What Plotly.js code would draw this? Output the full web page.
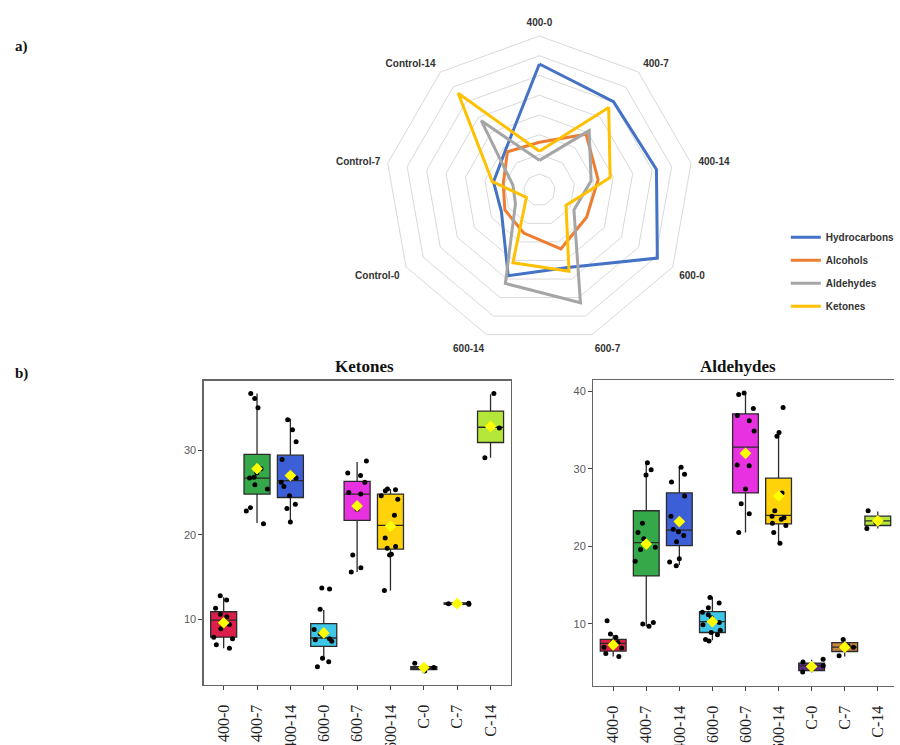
<!DOCTYPE html>
<html>
<head>
<meta charset="utf-8">
<script src="https://cdn.plot.ly/plotly-3.0.1.min.js"></script>
<style>
  html, body { margin: 0; padding: 0; background: #ffffff; }
  #chart { width: 900px; height: 745px; }
</style>
</head>
<body>
<div id="chart"></div>
<script>
// ---- a) radar: relative abundance of compound classes per treatment ----
const radarAxes = ['400-0', '400-7', '400-14', '600-0', '600-7', '600-14', 'Control-0', 'Control-7', 'Control-14'];
const hydrocarbons = [27.9, 25.2, 26.1, 30.5, 16.9, 19.1, 7.1, 7.8, 9.3];
const alcohols     = [8.1, 14.4, 11.1, 9.8, 11.9, 7.6, 6.1, 5.3, 8.6];
const aldehydesRad = [3.5, 15.6, 9.3, 6.1, 26.4, 21.2, 3.0, 2.8, 18.9];
const ketonesRad   = [5.8, 23.3, 14.2, 3.8, 17.9, 15.6, -0.2, 8.1, 28.0];
const radarRings   = [0, 5, 10, 15, 20, 25, 30, 35];

// ---- b) box plots ----
const groups = ['400-0', '400-7', '400-14', '600-0', '600-7', '600-14', 'C-0', 'C-7', 'C-14'];

// Ketones: box statistics
const ketQ1   = [7.9, 24.8, 24.4, 6.8, 21.7, 18.3, 4.05, 11.78, 30.9];
const ketMed  = [9.9, 26.7, 26.4, 7.8, 24.8, 21.1, 4.25, 11.85, 32.7];
const ketQ3   = [10.9, 29.5, 29.4, 9.5, 26.3, 24.8, 4.4, 11.95, 34.6];
const ketLo   = [6.6, 21.4, 21.5, 5.2, 15.6, 13.4, 4.05, 11.78, 29.1];
const ketHi   = [12.6, 36.7, 33.7, 11.1, 28.6, 25.4, 4.4, 11.95, 36.6];
const ketMean = [9.6, 27.8, 27.0, 8.4, 23.4, 21.0, 4.3, 11.85, 32.8];
// Ketones: individual samples per group
const ketPts = [
  [12.8, 12.3, 11.3, 10.6, 10.3, 9.7, 9.4, 8.9, 7.9, 7.7, 7.0, 6.6],
  [36.7, 36.1, 35.0, 27.8, 27.3, 26.8, 26.7, 25.9, 25.4, 23.2, 22.8, 21.3],
  [33.6, 32.4, 31.0, 28.9, 26.7, 26.2, 25.7, 24.6, 23.6, 23.1, 21.5],
  [13.7, 13.6, 11.2, 8.8, 8.3, 8.1, 7.7, 7.6, 7.4, 5.4, 5.0, 4.4],
  [28.7, 27.3, 27.0, 26.2, 25.0, 24.8, 23.0, 17.6, 16.1, 15.6],
  [25.4, 25.3, 25.2, 24.6, 24.2, 22.3, 19.6, 18.6, 18.4, 17.7, 17.6, 13.4],
  [4.8, 4.3, 3.9],
  [11.8, 11.9, 11.85],
  [36.7, 32.6, 29.1]
];

// Aldehydes: box statistics
const aldQ1   = [6.5, 16.2, 20.1, 8.9, 26.9, 22.9, 4.0, 6.45, 22.7];
const aldMed  = [7.5, 20.5, 22.1, 10.3, 32.8, 24.0, 4.6, 7.0, 23.3];
const aldQ3   = [8.0, 24.6, 26.9, 11.6, 37.1, 28.8, 4.95, 7.6, 23.9];
const aldLo   = [5.8, 9.7, 17.6, 7.9, 21.8, 20.5, 3.75, 5.8, 22.3];
const aldHi   = [8.6, 30.7, 30.3, 13.5, 39.8, 34.6, 5.4, 8.0, 24.5];
const aldMean = [7.3, 20.3, 23.2, 10.3, 32.0, 26.5, 4.5, 7.0, 23.3];
// Aldehydes: individual samples per group
const aldPts = [
  [10.4, 8.7, 8.3, 7.7, 7.6, 7.3, 7.0, 6.9, 6.2, 5.8],
  [30.8, 29.9, 29.2, 23.0, 21.8, 21.0, 19.9, 19.6, 18.1, 10.2, 10.0, 9.7],
  [30.2, 29.3, 28.3, 26.5, 23.9, 22.2, 21.9, 21.4, 20.6, 18.4, 18.0, 17.5],
  [13.4, 12.7, 12.1, 11.5, 11.2, 10.8, 10.2, 9.9, 9.2, 8.9, 8.6, 8.0, 7.8],
  [39.8, 39.6, 37.8, 36.9, 36.2, 34.9, 30.5, 30.4, 27.4, 25.5, 24.2, 21.8],
  [37.9, 34.7, 34.2, 26.9, 24.6, 23.9, 23.7, 23.5, 23.0, 22.7, 21.8, 20.4],
  [5.45, 5.1, 4.6, 3.8],
  [8.0, 7.2, 7.0, 5.9],
  [24.6, 23.1, 22.3]
];

// fill colour of each treatment group
const groupColors = ['#DC1E4A', '#35A94A', '#3C5FD8', '#3EC6E8', '#E832E2', '#FFD20A', '#5E2A82', '#C9843E', '#B5E63A'];
const seriesColors = ['#4472C4', '#ED7D31', '#A5A5A5', '#FFC000'];

const traces = [];

// radar series (closed polygons)
const radarSeries = [
  ['Hydrocarbons', hydrocarbons],
  ['Alcohols', alcohols],
  ['Aldehydes', aldehydesRad],
  ['Ketones', ketonesRad]
];
radarSeries.forEach(function (s, i) {
  traces.push({
    type: 'scatterpolar',
    subplot: 'polar',
    name: s[0],
    legendgroup: s[0],
    theta: radarAxes.concat([radarAxes[0]]),
    r: s[1].concat([s[1][0]]),
    mode: 'lines',
    line: { color: seriesColors[i], width: 3 },
    hoverinfo: 'skip'
  });
});

function addBoxPanel(xa, ya, q1, med, q3, lo, hi, mean, pts) {
  groups.forEach(function (g, i) {
    traces.push({
      type: 'box',
      xaxis: xa, yaxis: ya,
      x: [g],
      q1: [q1[i]], median: [med[i]], q3: [q3[i]],
      lowerfence: [lo[i]], upperfence: [hi[i]],
      fillcolor: groupColors[i],
      line: { color: '#2b2b2b', width: 1.3 },
      whiskerwidth: 0,
      boxpoints: false,
      showlegend: false,
      hoverinfo: 'skip'
    });
  });
  // jittered samples (box outline itself hidden)
  const px = [], py = [];
  pts.forEach(function (arr, i) {
    arr.forEach(function (v) { px.push(groups[i]); py.push(v); });
  });
  traces.push({
    type: 'box',
    xaxis: xa, yaxis: ya,
    x: px, y: py,
    boxpoints: 'all',
    jitter: 0.9,
    pointpos: 0,
    fillcolor: 'rgba(0,0,0,0)',
    line: { color: 'rgba(0,0,0,0)', width: 0 },
    marker: { color: '#000000', size: 5 },
    whiskerwidth: 0,
    showlegend: false,
    hoverinfo: 'skip'
  });
  // group means
  traces.push({
    type: 'scatter',
    xaxis: xa, yaxis: ya,
    x: groups, y: mean,
    mode: 'markers',
    marker: { symbol: 'diamond', color: '#FFFF00', size: 9 },
    showlegend: false,
    hoverinfo: 'skip'
  });
}

addBoxPanel('x', 'y', ketQ1, ketMed, ketQ3, ketLo, ketHi, ketMean, ketPts);
addBoxPanel('x2', 'y2', aldQ1, aldMed, aldQ3, aldLo, aldHi, aldMean, aldPts);

const xTickFont = { family: 'Liberation Serif, Times New Roman, serif', size: 16, color: '#222222' };
const yTickFont = { family: 'Liberation Sans, Arial, sans-serif', size: 11, color: '#5a5a5a' };

const layout = {
  width: 900,
  height: 745,
  margin: { l: 0, r: 0, t: 0, b: 0 },
  paper_bgcolor: '#ffffff',
  plot_bgcolor: '#ffffff',
  font: { family: 'Liberation Sans, Arial, sans-serif', color: '#333333' },
  showlegend: true,
  boxmode: 'overlay',
  boxgap: 0.22,
  boxgroupgap: 0,
  hovermode: false,
  legend: {
    x: 0.879, y: 0.701, xanchor: 'left', yanchor: 'top',
    font: { family: 'Liberation Sans, Arial, sans-serif', size: 10, color: '#333333', weight: 'bold' },
    bgcolor: 'rgba(0,0,0,0)',
    traceorder: 'grouped',
    tracegroupgap: 4,
    itemwidth: 30
  },
  polar: {
    domain: { x: [0.4311, 0.7756], y: [0.537, 0.953] },
    gridshape: 'linear',
    bgcolor: 'rgba(0,0,0,0)',
    angularaxis: {
      type: 'category',
      categoryarray: radarAxes,
      direction: 'clockwise',
      rotation: 90,
      showgrid: false,
      showline: true,
      linecolor: '#D9D9D9',
      linewidth: 1,
      ticks: 'outside',
      ticklen: 5,
      tickcolor: 'rgba(0,0,0,0)',
      tickfont: { family: 'Liberation Sans, Arial, sans-serif', size: 10, color: '#333333', weight: 'bold' }
    },
    radialaxis: {
      range: [-4, 35],
      tickvals: radarRings,
      showticklabels: false,
      ticks: '',
      showline: false,
      gridcolor: '#D9D9D9',
      gridwidth: 1
    }
  },
  xaxis: {
    domain: [0.2278, 0.5711],
    anchor: 'y',
    type: 'category',
    categoryarray: groups,
    range: [-0.6, 8.6],
    tickangle: -90,
    tickfont: xTickFont,
    ticks: 'outside', ticklen: 4, tickcolor: '#444444',
    ticklabelstandoff: 8,
    showline: true, mirror: true, linecolor: '#666666', linewidth: 1.3,
    showgrid: false, zeroline: false, fixedrange: true
  },
  yaxis: {
    domain: [0.0805, 0.489],
    anchor: 'x',
    range: [2.24, 38.2],
    tickvals: [10, 20, 30],
    tickfont: yTickFont,
    ticks: 'outside', ticklen: 4, tickcolor: '#444444',
    showline: true, mirror: true, linecolor: '#666666', linewidth: 1.3,
    showgrid: false, zeroline: false, fixedrange: true
  },
  xaxis2: {
    domain: [0.6637, 1.0],
    anchor: 'y2',
    type: 'category',
    categoryarray: groups,
    range: [-0.6, 8.49],
    tickangle: -90,
    tickfont: xTickFont,
    ticks: 'outside', ticklen: 4, tickcolor: '#444444',
    ticklabelstandoff: 8,
    showline: true, mirror: true, linecolor: '#666666', linewidth: 1.3,
    showgrid: false, zeroline: false, fixedrange: true
  },
  yaxis2: {
    domain: [0.0792, 0.4899],
    anchor: 'x2',
    range: [2.0, 41.46],
    tickvals: [10, 20, 30, 40],
    tickfont: yTickFont,
    ticks: 'outside', ticklen: 4, tickcolor: '#444444',
    showline: true, mirror: false, linecolor: '#666666', linewidth: 1.3,
    showgrid: false, zeroline: false, fixedrange: true
  },
  annotations: [
    { text: 'a)', xref: 'paper', yref: 'paper', x: 0.0244, y: 1 - 47 / 745, xanchor: 'center', yanchor: 'middle',
      showarrow: false, font: { family: 'Liberation Serif, Times New Roman, serif', size: 15, color: '#111111', weight: 'bold' } },
    { text: 'b)', xref: 'paper', yref: 'paper', x: 0.0244, y: 1 - 373 / 745, xanchor: 'center', yanchor: 'middle',
      showarrow: false, font: { family: 'Liberation Serif, Times New Roman, serif', size: 15, color: '#111111', weight: 'bold' } },
    { text: 'Ketones', xref: 'paper', yref: 'paper', x: 367 / 900, y: 1 - 366 / 745, xanchor: 'center', yanchor: 'middle',
      showarrow: false, font: { family: 'Liberation Serif, Times New Roman, serif', size: 17, color: '#111111', weight: 'bold' } },
    { text: 'Aldehydes', xref: 'paper', yref: 'paper', x: 743 / 900, y: 1 - 366 / 745, xanchor: 'center', yanchor: 'middle',
      showarrow: false, font: { family: 'Liberation Serif, Times New Roman, serif', size: 17, color: '#111111', weight: 'bold' } }
  ]
};

Plotly.newPlot('chart', traces, layout, { displayModeBar: false, staticPlot: true });
</script>
</body>
</html>
